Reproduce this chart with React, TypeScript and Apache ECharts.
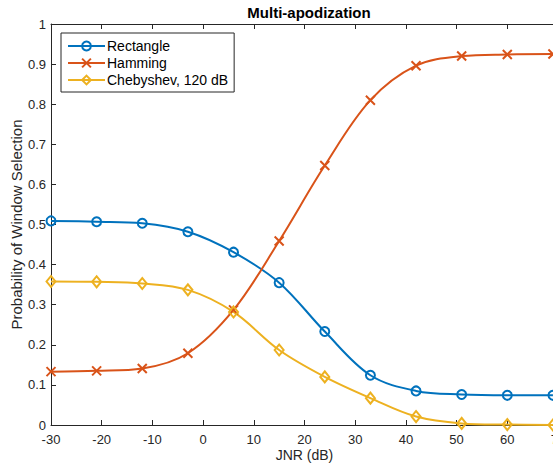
import React, { useEffect, useRef } from "react";
import * as echarts from "echarts";

const jnr = [-30, -21, -12, -3, 6, 15, 24, 33, 42, 51, 60, 69];
const rectangle = [0.509, 0.507, 0.503, 0.482, 0.431, 0.355, 0.233, 0.124, 0.085, 0.076, 0.074, 0.074];
const hamming = [0.133, 0.135, 0.141, 0.179, 0.287, 0.459, 0.647, 0.81, 0.896, 0.92, 0.924, 0.925];
const chebyshev = [0.358, 0.357, 0.353, 0.337, 0.282, 0.187, 0.12, 0.067, 0.021, 0.004, 0.001, 0.0];
const seriesNames = ["Rectangle", "Hamming", "Chebyshev, 120 dB"];
const colors = ["#0072BD", "#D95319", "#EDB120"];

const FONT = "'Liberation Sans', Arial, Helvetica, sans-serif";
const AX = "#262626";

export default function App() {
  const ref = useRef<HTMLDivElement>(null);
  useEffect(() => {
    document.body.style.margin = "0";
    const chart = echarts.init(ref.current!, null, { renderer: "svg" });
    const pair = (ys: number[]) => jnr.map((x, i) => [x, ys[i]]);
    const xSym = "path://M0,0L10,10M10,0L0,10";
    const mk = (name: string, ys: number[], color: string, symbol: string, size: any) => ({
      name,
      type: "line",
      data: pair(ys),
      smooth: 0.35,
      symbol,
      symbolSize: size,
      showAllSymbol: true,
      lineStyle: { color, width: 2 },
      itemStyle: { color: "none", borderColor: color, borderWidth: 2 },
      emphasis: { disabled: true },
      z: 3,
    });
    const tickCommon = { inside: true, length: 5, lineStyle: { color: AX, width: 1 } };
    const lineCommon = { show: true, onZero: false, lineStyle: { color: AX, width: 1 } };
    chart.setOption({
      animation: false,
      color: colors,
      title: {
        text: "Multi-apodization",
        left: 304,
        textAlign: "center",
        top: 0,
        textStyle: { fontFamily: FONT, fontSize: 15, fontWeight: "bold", color: "#000" },
      },
      grid: { left: 51, top: 24, width: 507, height: 401, containLabel: false, outerBoundsMode: "none" },
      legend: {
        orient: "vertical",
        left: 61,
        top: 33,
        padding: [6, 6, 5, 6],
        borderColor: AX,
        borderWidth: 1,
        backgroundColor: "#fff",
        itemWidth: 37,
        itemHeight: 11,
        itemGap: 3,
        textStyle: { fontFamily: FONT, fontSize: 14, color: "#000", padding: [0, 0, 0, -3] },
        data: seriesNames,
      },
      xAxis: [
        {
          type: "value",
          min: -30,
          max: 70,
          interval: 10,
          name: "JNR (dB)",
          nameLocation: "middle",
          nameGap: 23,
          nameMoveOverlap: false,
          nameTextStyle: { fontFamily: FONT, fontSize: 14, color: AX },
          axisLine: lineCommon,
          axisTick: tickCommon,
          axisLabel: { fontFamily: FONT, fontSize: 13, color: AX, margin: 8 },
          splitLine: { show: false },
        },
        {
          type: "value",
          position: "top",
          min: -30,
          max: 70,
          interval: 10,
          axisLine: lineCommon,
          axisTick: tickCommon,
          axisLabel: { show: false },
          splitLine: { show: false },
        },
      ],
      yAxis: [
        {
          type: "value",
          min: 0,
          max: 1,
          interval: 0.1,
          name: "Probability of Window Selection",
          nameLocation: "middle",
          nameGap: 27,
          nameMoveOverlap: false,
          nameTextStyle: { fontFamily: FONT, fontSize: 15, color: AX },
          axisLine: lineCommon,
          axisTick: { show: true, ...tickCommon },
          axisLabel: { fontFamily: FONT, fontSize: 13, color: AX, margin: 5 },
          splitLine: { show: false },
        },
        {
          type: "value",
          position: "right",
          min: 0,
          max: 1,
          interval: 0.1,
          axisLine: lineCommon,
          axisTick: { show: true, ...tickCommon },
          axisLabel: { show: false },
          splitLine: { show: false },
        },
      ],
      series: [
        mk(seriesNames[0], rectangle, colors[0], "circle", 9),
        mk(seriesNames[1], hamming, colors[1], xSym, 9),
        mk(seriesNames[2], chebyshev, colors[2], "diamond", [9, 11]),
      ],
    });
    return () => chart.dispose();
  }, []);
  return <div ref={ref} style={{ width: 553, height: 471 }} />;
}
